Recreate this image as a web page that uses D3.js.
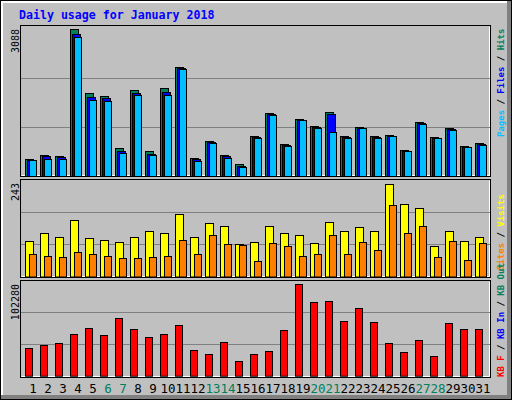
<!DOCTYPE html>
<html>
<head>
<meta charset="UTF-8">
<script src="https://d3js.org/d3.v7.min.js"></script>
<style>
  body { margin: 0; background: #fff; }
  svg text { font-family: "DejaVu Sans Mono", monospace; }
</style>
</head>
<body>
<svg id="chart" width="512" height="400"></svg>
<script>
const days = d3.range(1, 32);
const weekends = [6, 7, 13, 14, 20, 21, 27, 28];
const hits  = [351,435,414,3088,1737,1674,582,1800,519,1842,2283,372,729,435,246,834,1317,666,1191,1044,1338,834,1023,834,855,540,1128,813,1002,624,687];
const files = [340,410,400,2976,1650,1630,530,1740,470,1760,2262,350,710,410,220,813,1296,645,1180,1023,1296,813,1012,813,845,530,1107,803,981,614,666];
const pages = [330,351,351,2913,1590,1569,477,1695,435,1695,2241,309,687,372,183,792,1275,624,1170,1002,918,792,1002,792,834,519,1086,792,960,603,645];
const visits = [89,109,99,142,96,91,86,99,116,109,157,99,134,127,81,86,127,109,104,84,137,114,124,114,233,182,172,76,116,89,99];
const sites  = [56,53,48,63,56,53,46,46,48,51,91,56,106,81,79,38,84,76,51,56,104,58,86,68,180,111,127,48,89,41,84];
const kbytes = [29307,32523,34668,44318,50751,43245,61473,49679,41101,44318,53967,27162,22874,35740,15368,22874,26090,48606,97928,78628,79701,58256,72195,57184,34668,25018,37884,20729,56112,49679,49679];
const maxLabels = ["3088", "243", "102280"];

const svg = d3.select("#chart");
const gray = "#c0c0c0";

// outer frame
svg.append("rect").attr("x", 0).attr("y", 0).attr("width", 512).attr("height", 400).attr("fill", "#808080");
svg.append("rect").attr("x", 0).attr("y", 0).attr("width", 507).attr("height", 395).attr("fill", "#fff");
svg.append("rect").attr("x", 3).attr("y", 3).attr("width", 504).attr("height", 392).attr("fill", gray);
svg.append("rect").attr("x", 0.5).attr("y", 0.5).attr("width", 511).attr("height", 399)
   .attr("fill", "none").attr("stroke", "#000");

svg.append("text").attr("x", 19).attr("y", 19).attr("fill", "#0000ff")
   .attr("font-size", "11.6px").attr("font-weight", "bold")
   .text("Daily usage for January 2018");

const x = d3.scaleBand().domain(days).range([20, 485]);

const panels = [
  {top: 25, bottom: 176, y: d3.scaleLinear().domain([0, 3088]).range([176, 29]), label: maxLabels[0]},
  {top: 179, bottom: 277, y: d3.scaleLinear().domain([0, 243]).range([276.5, 180.3]), label: maxLabels[1]},
  {top: 280, bottom: 377, y: d3.scaleLinear().domain([0, 102280]).range([375.7, 280.3]), label: maxLabels[2]}
];

panels.forEach(p => {
  svg.append("rect").attr("x", 20.5).attr("y", p.top + 0.5).attr("width", 470).attr("height", p.bottom - p.top)
     .attr("fill", gray).attr("stroke", "#000");
  svg.append("path").attr("d", `M21.5,${p.bottom - 0.5}H489.5V${p.top + 1.5}`)
     .attr("fill", "none").attr("stroke", "#fff");
  const d = p.y.domain()[1];
  [d / 3, 2 * d / 3].forEach(v => {
    svg.append("line").attr("x1", 21).attr("x2", 490)
       .attr("y1", Math.round(p.y(v)) + 0.5).attr("y2", Math.round(p.y(v)) + 0.5)
       .attr("stroke", "#808080").attr("stroke-width", 1);
  });
  svg.append("text").attr("transform", `translate(19,${p.top + 4}) rotate(-90)`)
     .attr("text-anchor", "end").attr("font-size", "10px").attr("fill", "#000").text(p.label);
});

function bars(values, y, off, w, color) {
  svg.append("g").selectAll("rect").data(values).enter().append("rect")
     .attr("x", (d, i) => x(days[i]) + off + 0.5)
     .attr("y", d => Math.round(y(d)) + 0.5)
     .attr("width", w)
     .attr("height", d => y(0) - Math.round(y(d)))
     .attr("fill", color).attr("stroke", "#000");
}

bars(hits, panels[0].y, 5, 8, "#00805c");
bars(files, panels[0].y, 7, 8, "#0000ff");
bars(pages, panels[0].y, 9, 7, "#00c0ff");
bars(visits, panels[1].y, 5, 8, "#ffff00");
bars(sites, panels[1].y, 9, 7, "#ff8000");
bars(kbytes, panels[2].y, 5, 7, "#ff0000");

// day labels
svg.append("g").selectAll("text").data(days).enter().append("text")
   .attr("x", d => x(d) + 13).attr("y", 393)
   .attr("text-anchor", "middle").attr("font-size", "12.5px")
   .attr("fill", d => weekends.includes(d) ? "#00805c" : "#000")
   .text(d => d);

// right-side legends
function legend(yStart, parts) {
  const t = svg.append("text").attr("transform", `translate(504,${yStart}) rotate(-90)`)
     .attr("font-size", "9px").attr("font-weight", "bold");
  parts.forEach(([s, c]) => t.append("tspan").attr("fill", c).text(s));
}
legend(137, [["Pages", "#00c0ff"], [" / ", "#000"], ["Files", "#0000ff"], [" / ", "#000"], ["Hits", "#00805c"]]);
legend(270, [["Sites", "#ff8000"], [" / ", "#000"], ["Visits", "#ffff00"]]);
legend(377, [["KB F", "#ff0000"], [" / ", "#000"], ["KB In", "#0000ff"], [" / ", "#000"], ["KB Out", "#00805c"]]);
</script>
</body>
</html>
